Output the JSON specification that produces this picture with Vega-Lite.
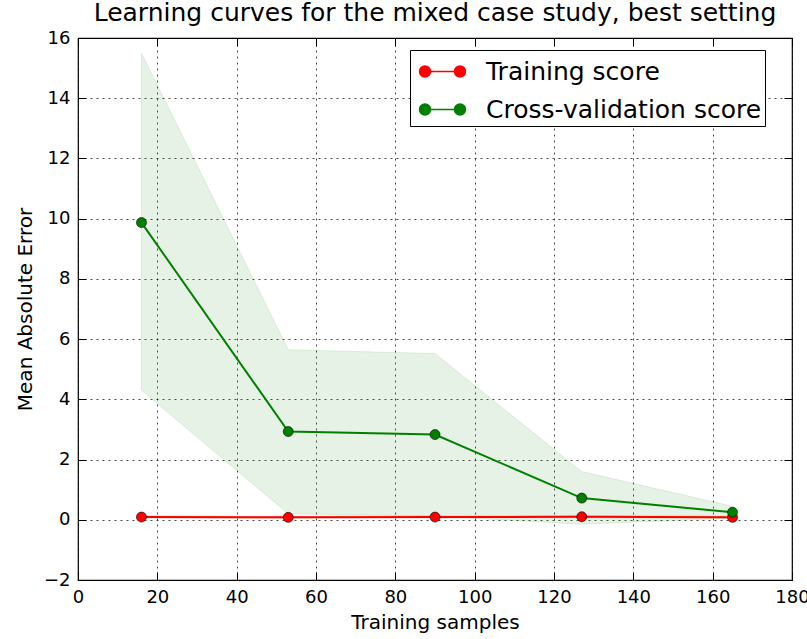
{
  "$schema": "https://vega.github.io/schema/vega-lite/v6.json",
  "width": 714,
  "height": 542,
  "autosize": {"type": "none"},
  "padding": {"left": 78, "top": 38, "right": 15, "bottom": 59},
  "title": {"text": "Learning curves for the mixed case study, best setting", "fontSize": 25, "fontWeight": "normal", "font": "DejaVu Sans", "color": "black", "offset": 3},
  "config": {
    "font": "DejaVu Sans",
    "view": {"stroke": "black", "strokeWidth": 1.2},
    "axis": {"labelFontSize": 18, "titleFontSize": 20, "titleFontWeight": "normal", "labelColor": "black", "titleColor": "black", "tickColor": "black", "domain": false, "gridColor": "black", "gridDash": [2, 4], "gridOpacity": 0.7, "gridWidth": 1, "tickSize": -8, "tickWidth": 1}
  },
  "data": {"values": [
    {"n": 16, "score": 0.09, "lo": 0.05, "hi": 0.13, "series": "Training score"},
    {"n": 53, "score": 0.08, "lo": 0.04, "hi": 0.12, "series": "Training score"},
    {"n": 90, "score": 0.09, "lo": 0.05, "hi": 0.13, "series": "Training score"},
    {"n": 127, "score": 0.1, "lo": 0.06, "hi": 0.14, "series": "Training score"},
    {"n": 165, "score": 0.08, "lo": 0.04, "hi": 0.12, "series": "Training score"},
    {"n": 16, "score": 9.87, "lo": 4.3, "hi": 15.5, "series": "Cross-validation score"},
    {"n": 53, "score": 2.93, "lo": 0.2, "hi": 5.65, "series": "Cross-validation score"},
    {"n": 90, "score": 2.83, "lo": 0.12, "hi": 5.52, "series": "Cross-validation score"},
    {"n": 127, "score": 0.72, "lo": -0.15, "hi": 1.6, "series": "Cross-validation score"},
    {"n": 165, "score": 0.25, "lo": 0.05, "hi": 0.45, "series": "Cross-validation score"}
  ]},
  "layer": [
    {
      "mark": {"type": "area", "fillOpacity": 0.1, "strokeOpacity": 0.1, "stroke": "green"},
      "encoding": {
        "x": {"field": "n", "type": "quantitative", "scale": {"domain": [0, 180], "nice": false}, "axis": {"orient": "bottom", "values": [0,20,40,60,80,100,120,140,160,180], "title": "Training samples", "titlePadding": 6, "labelPadding": 16, "grid": true, "labelFlush": false}},
        "y": {"field": "lo", "type": "quantitative", "scale": {"domain": [-2, 16], "nice": false}, "axis": {"orient": "left", "values": [-2,0,2,4,6,8,10,12,14,16], "title": "Mean Absolute Error", "titlePadding": 8, "labelPadding": 16, "grid": true, "labelFlush": false}},
        "y2": {"field": "hi"},
        "color": {"field": "series", "type": "nominal", "scale": {"domain": ["Training score", "Cross-validation score"], "range": ["#ff0000", "#008000"]}, "legend": {
          "title": null, "orient": "none", "legendX": 332, "legendY": 12,
          "strokeColor": "black", "fillColor": "white", "padding": 3, "cornerRadius": 0,
          "labelFontSize": 25, "labelColor": "black", "labelOffset": 25, "rowPadding": 6, "labelLimit": 400,
          "symbolOffset": 11,
          "symbolType": "M-1,0L1,0M-1.31,0A0.31,0.31 0 1,0 -0.69,0A0.31,0.31 0 1,0 -1.31,0ZM0.69,0A0.31,0.31 0 1,0 1.31,0A0.31,0.31 0 1,0 0.69,0Z",
          "symbolSize": 1225, "symbolStrokeWidth": 1.6, "symbolOpacity": 1, "symbolFillColor": null
        }}
      }
    },
    {
      "mark": {"type": "line", "strokeWidth": 2, "point": {"filled": true, "size": 100, "stroke": "black", "strokeWidth": 0.6}},
      "encoding": {
        "x": {"field": "n", "type": "quantitative", "axis": null},
        "y": {"field": "score", "type": "quantitative", "axis": null},
        "color": {"field": "series", "type": "nominal"}
      }
    },
    {
      "mark": {"type": "point", "opacity": 0},
      "encoding": {
        "x": {"field": "n", "type": "quantitative", "axis": {"orient": "top", "values": [0,20,40,60,80,100,120,140,160,180], "labels": false, "title": null, "grid": false}},
        "y": {"field": "score", "type": "quantitative", "axis": {"orient": "right", "values": [-2,0,2,4,6,8,10,12,14,16], "labels": false, "title": null, "grid": false}}
      }
    }
  ],
  "resolve": {"axis": {"x": "independent", "y": "independent"}}
}
